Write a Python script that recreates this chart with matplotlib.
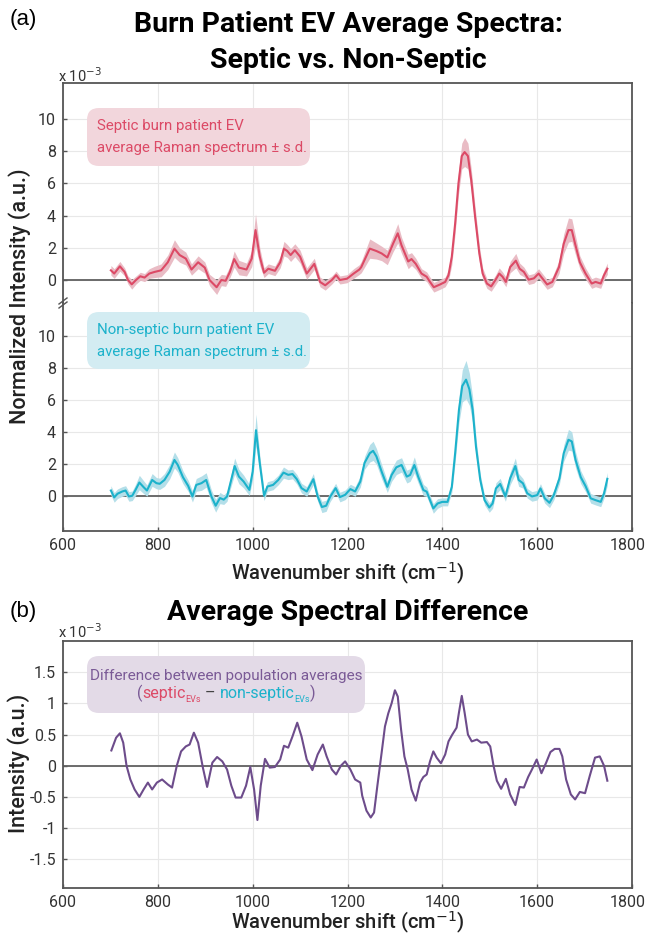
import matplotlib.pyplot as plt
from matplotlib.patches import FancyBboxPatch
from matplotlib.lines import Line2D
from matplotlib.transforms import IdentityTransform, ScaledTranslation

plt.rcParams['font.family'] = ['Roboto', 'DejaVu Sans']

# septic average spectrum (x 10^-3) and its s.d.
septic_x = [701, 708, 720, 730, 737, 745, 754, 763, 772, 782,
            793, 807, 821, 835, 846, 859, 871, 885, 899, 909,
            924, 934, 943, 952, 961, 971, 987, 998, 1006, 1015,
            1024, 1033, 1047, 1058, 1066, 1073, 1080, 1089, 1100, 1114,
            1130, 1142, 1153, 1167, 1176, 1184, 1199, 1213, 1225,
            1229, 1247, 1261, 1272, 1284, 1296, 1306, 1314, 1328, 1335,
            1344, 1356, 1367, 1374, 1382, 1395, 1406, 1413, 1420, 1427,
            1434, 1441, 1447, 1454, 1461, 1469, 1478, 1485, 1494, 1503,
            1512, 1520, 1527, 1534, 1543, 1555, 1563, 1572, 1582, 1593,
            1603, 1611, 1621, 1632, 1646, 1656, 1666, 1673, 1680, 1690,
            1702, 1715, 1723, 1734, 1741, 1748]
septic_y = [0.6, 0.4, 0.85, 0.5, 0.0, -0.27, 0.0, 0.23, 0.15, 0.4,
            0.5, 0.6, 1.1, 1.95, 1.55, 1.33, 0.65, 1.1, 0.77, 0.0,
            -0.45, 0.0, -0.05, 0.5, 1.3, 0.77, 0.65, 1.33, 3.1, 1.45,
            0.45, 0.7, 0.57, 1.1, 1.95, 1.8, 1.55, 1.85, 1.45, 0.4,
            1.0, -0.12, -0.33, 0.0, 0.3, 0.0, 0.08, 0.4, 0.65,
            0.8, 1.95, 1.8, 1.65, 1.4, 2.25, 2.9, 2.15, 1.15, 1.3,
            1.0, 0.4, 0.2, -0.12, -0.45, -0.28, -0.12, 0.3, 1.45, 3.5,
            6.0, 7.7, 7.95, 7.7, 6.2, 3.95, 1.65, 0.4, -0.22, -0.4,
            0.0, 0.4, 0.2, -0.12, 0.8, 1.2, 0.7, 0.5, 0.02, 0.1,
            0.4, 0.1, -0.28, -0.12, 0.8, 2.25, 3.1, 3.1, 2.25, 1.1,
            0.4, -0.22, -0.12, -0.22, 0.3, 0.7]
septic_sd = [0.3, 0.3, 0.3, 0.25, 0.25, 0.3, 0.25, 0.25, 0.25, 0.3,
             0.35, 0.4, 0.45, 0.55, 0.45, 0.4, 0.35, 0.4, 0.35, 0.35,
             0.45, 0.35, 0.35, 0.35, 0.5, 0.45, 0.4, 0.5, 1.0, 0.55,
             0.3, 0.3, 0.3, 0.35, 0.45, 0.4, 0.4, 0.4, 0.4, 0.35,
             0.35, 0.3, 0.3, 0.25, 0.25, 0.25, 0.25, 0.3, 0.3,
             0.35, 0.6, 0.5, 0.45, 0.45, 0.5, 0.6, 0.5, 0.45, 0.4,
             0.35, 0.3, 0.3, 0.3, 0.3, 0.3, 0.3, 0.35, 0.5, 0.6,
             0.7, 0.8, 0.9, 0.8, 0.7, 0.6, 0.5, 0.35, 0.3, 0.3,
             0.3, 0.35, 0.3, 0.3, 0.35, 0.45, 0.35, 0.3, 0.3, 0.3,
             0.3, 0.3, 0.3, 0.3, 0.4, 0.6, 0.75, 0.7, 0.6, 0.4,
             0.35, 0.3, 0.3, 0.3, 0.3, 0.35]

# non-septic average spectrum (x 10^-3) and its s.d.
nonsep_x = [701, 708, 715, 725, 732, 739, 746, 753, 761, 770,
            777, 788, 797, 804, 814, 825, 835, 842, 853, 864,
            873, 881, 892, 902, 913, 922, 931, 939, 946, 953,
            962, 971, 981, 993, 1000, 1007, 1015, 1024, 1031, 1043,
            1054, 1065, 1075, 1084, 1093, 1103, 1114, 1128, 1137, 1146,
            1155, 1163, 1175, 1184, 1195, 1206, 1216, 1227,
            1236, 1247, 1254, 1261, 1272, 1284, 1293, 1303, 1314, 1325,
            1332, 1341, 1349, 1360, 1367, 1374, 1381, 1390, 1400, 1411,
            1420, 1427, 1435, 1442, 1450, 1457, 1464, 1471, 1480, 1489,
            1499, 1506, 1513, 1522, 1533, 1543, 1554, 1561, 1570, 1579,
            1589, 1600, 1607, 1616, 1626, 1635, 1647, 1656, 1666, 1673,
            1681, 1692, 1702, 1713, 1723, 1734, 1741, 1748]
nonsep_y = [0.37, -0.06, 0.17, 0.31, 0.37, 0.0, 0.04, 0.41, 0.87, 0.58,
            0.37, 1.03, 0.83, 0.79, 1.03, 1.55, 2.28, 1.97, 1.2, 0.66,
            0.0, 0.72, 0.83, 1.03, 0.0, -0.58, -0.1, -0.2, 0.0, 0.83,
            1.9, 1.24, 0.93, 0.41, 1.55, 4.14, 2.07, 0.04, 0.62, 0.72,
            1.03, 1.49, 1.35, 1.4, 1.08, 0.52, 0.31, 1.08, 0.0, -0.66,
            -0.58, -0.04, 0.52, -0.04, 0.1, 0.46, 0.31, 0.93,
            2.1, 2.7, 2.85, 2.5, 1.55, 0.6, 1.34, 1.82, 1.97, 1.24,
            1.34, 1.97, 1.24, 0.4, 0.3, -0.23, -0.75, -0.44, -0.34, -0.34,
            0.6, 2.7, 5.4, 6.9, 7.3, 6.7, 5.4, 3.1, 1.03, -0.23,
            -0.69, -0.44, 0.5, 0.78, 0.0, 1.13, 1.9, 1.03, 0.82, 0.2,
            0.0, 0.08, 0.5, -0.12, -0.4, 0.08, 1.13, 2.7, 3.54, 3.44,
            2.28, 1.2, 0.65, -0.12, -0.23, -0.34, 0.19, 1.1]
nonsep_sd = [0.3, 0.3, 0.3, 0.3, 0.3, 0.3, 0.3, 0.35, 0.45, 0.4,
             0.35, 0.4, 0.35, 0.35, 0.4, 0.45, 0.5, 0.45, 0.4, 0.35,
             0.35, 0.4, 0.45, 0.45, 0.4, 0.4, 0.35, 0.3, 0.3, 0.35,
             0.5, 0.45, 0.4, 0.35, 0.5, 1.0, 0.5, 0.3, 0.3, 0.3,
             0.3, 0.35, 0.3, 0.3, 0.3, 0.3, 0.3, 0.35, 0.3, 0.35,
             0.35, 0.3, 0.3, 0.3, 0.3, 0.3, 0.3, 0.35,
             0.4, 0.55, 0.6, 0.5, 0.45, 0.35, 0.4, 0.45, 0.45, 0.4,
             0.4, 0.5, 0.4, 0.35, 0.3, 0.3, 0.3, 0.3, 0.25, 0.25,
             0.35, 0.55, 0.8, 1.0, 1.2, 1.0, 0.8, 0.55, 0.35, 0.3,
             0.3, 0.3, 0.35, 0.35, 0.3, 0.4, 0.5, 0.4, 0.3, 0.3,
             0.3, 0.3, 0.3, 0.3, 0.3, 0.3, 0.35, 0.5, 0.65, 0.6,
             0.5, 0.4, 0.35, 0.3, 0.3, 0.3, 0.3, 0.4]

# septic - non-septic difference (x 10^-3)
diff_x = [702, 712, 720, 727, 734, 742, 751, 761, 770, 779,
          788, 798, 809, 821, 830, 840, 849, 859, 867, 876,
          885, 895, 904, 915, 925, 936, 946, 955, 964, 976,
          986, 995, 1003, 1010, 1017, 1026, 1036, 1047, 1058, 1066,
          1075, 1084, 1094, 1103, 1114, 1126, 1137, 1148, 1156, 1167,
          1176, 1186, 1195, 1206, 1216, 1227,
          1231, 1240, 1249, 1256, 1263, 1272, 1279, 1286, 1293, 1300,
          1306, 1313, 1320, 1327, 1335, 1344, 1353, 1360, 1367, 1374,
          1381, 1388, 1397, 1406, 1413, 1421, 1430, 1435, 1441, 1447,
          1454, 1462, 1473, 1482, 1494, 1501, 1508, 1515, 1524, 1534,
          1543, 1554, 1563, 1572, 1581, 1589, 1599, 1609, 1619, 1628,
          1637, 1647, 1653, 1661, 1671, 1680, 1690, 1701, 1711, 1722,
          1732, 1741, 1748]
diff_y = [0.245, 0.45, 0.52, 0.37, 0.0, -0.22, -0.38, -0.5, -0.38, -0.27,
          -0.38, -0.27, -0.22, -0.3, -0.35, 0.0, 0.23, 0.31, 0.34, 0.53,
          0.37, -0.03, -0.34, 0.05, 0.14, 0.07, -0.06, -0.32, -0.51, -0.51,
          -0.32, -0.02, -0.38, -0.87, -0.32, 0.11, -0.03, -0.02, 0.1, 0.32,
          0.29, 0.47, 0.69, 0.47, 0.1, -0.07, 0.18, 0.34, 0.15, -0.06,
          -0.14, 0.0, 0.07, -0.06, -0.22, -0.27,
          -0.48, -0.72, -0.83, -0.75, -0.32, 0.21, 0.63, 0.84, 1.0, 1.21,
          1.11, 0.58, 0.15, -0.06, -0.38, -0.56, -0.27, -0.18, -0.14, 0.07,
          0.23, 0.13, 0.04, 0.18, 0.39, 0.5, 0.61, 0.85, 1.12, 0.85,
          0.5, 0.39, 0.42, 0.37, 0.38, 0.31, 0.0, -0.24, -0.37, -0.21,
          -0.46, -0.63, -0.34, -0.35, -0.18, -0.06, 0.1, -0.12, 0.05, 0.22,
          0.27, 0.27, 0.15, -0.22, -0.46, -0.54, -0.42, -0.44, -0.16, 0.13,
          0.15, 0.0, -0.24]

xticks = [600, 800, 1000, 1200, 1400, 1600, 1800]
yticks_top = [0, 2, 4, 6, 8, 10]
yticks_diff = [-1.5, -1, -0.5, 0, 0.5, 1, 1.5]
ytick_labels_diff = ['-1.5', '-1', '-0.5', '0', '0.5', '1', '1.5']

RED = '#dc4a66'
CYAN = '#1cb2cb'
PURPLE = '#6d4c8b'
SPINE = '#555555'

W, H = 648, 934
fig = plt.figure(figsize=(W / 100, H / 100), dpi=100)


def rect(x0, y0, x1, y1):
    # pixel box with top-left origin -> figure fraction rect
    return [x0 / W, 1 - y1 / H, (x1 - x0) / W, (y1 - y0) / H]


def style(ax):
    ax.set_xlim(600, 1800)
    ax.set_xticks(xticks)
    ax.grid(True, color='#e8e8e8', lw=0.8)
    ax.set_axisbelow(True)
    ax.tick_params(direction='in', length=3, width=1, color=SPINE,
                   labelsize=11.5, labelcolor='#333333', pad=5)
    for s in ax.spines.values():
        s.set_color(SPINE)
        s.set_linewidth(1.3)
    ax.axhline(0, color='#606060', lw=1.3, zorder=1)


ax_s = fig.add_axes(rect(63, 83, 632, 303))
ax_n = fig.add_axes(rect(63, 303, 632, 531))
ax_d = fig.add_axes(rect(63, 641, 632, 888))

for ax in (ax_s, ax_n, ax_d):
    style(ax)

ax_s.fill_between(septic_x, [m - s for m, s in zip(septic_y, septic_sd)],
                  [m + s for m, s in zip(septic_y, septic_sd)],
                  color='#e9bcc5', lw=0, zorder=2)
ax_s.plot(septic_x, septic_y, color=RED, lw=1.5, zorder=3)
ax_s.set_ylim(-1.43, 12.24)
ax_s.set_yticks(yticks_top)
ax_s.spines['bottom'].set_visible(False)
ax_s.tick_params(labelbottom=False, bottom=False)

ax_n.fill_between(nonsep_x, [m - s for m, s in zip(nonsep_y, nonsep_sd)],
                  [m + s for m, s in zip(nonsep_y, nonsep_sd)],
                  color='#b4dfe9', lw=0, zorder=2)
ax_n.plot(nonsep_x, nonsep_y, color=CYAN, lw=1.5, zorder=3)
ax_n.set_ylim(-2.16, 12.09)
ax_n.set_yticks(yticks_top)
ax_n.spines['top'].set_visible(False)

ax_d.plot(diff_x, diff_y, color=PURPLE, lw=1.5, zorder=3)
ax_d.set_ylim(-1.96, 2.0)
ax_d.set_yticks(yticks_diff)
ax_d.set_yticklabels(ytick_labels_diff)

# the last x label sits a little left of the right spine, as in the source
for ax in (ax_n, ax_d):
    lab = ax.get_xticklabels()[-1]
    lab.set_transform(lab.get_transform() + ScaledTranslation(-4 / 100, 0, fig.dpi_scale_trans))

# axis break marks on the left spine
for dy in (-2, 2):
    fig.add_artist(Line2D([59, 67], [H - 303 - 3 + dy, H - 303 + 3 + dy],
                          color=SPINE, lw=1, transform=IdentityTransform()))

# titles and labels
fig.text(10 / W, 1 - 20 / H, '(a)', fontsize=16, va='center', family='Liberation Sans')
fig.text(348 / W, 1 - 24 / H, 'Burn Patient EV Average Spectra:', fontsize=20.5,
         weight='bold', ha='center', va='center')
fig.text(348 / W, 1 - 60 / H, 'Septic vs. Non-Septic', fontsize=20.5,
         weight='bold', ha='center', va='center')
fig.text(10 / W, 1 - 612 / H, '(b)', fontsize=16, va='center', family='Liberation Sans')
fig.text(348 / W, 1 - 612 / H, 'Average Spectral Difference', fontsize=20.5,
         weight='bold', ha='center', va='center')

for y in (76, 632):
    fig.text(58 / W, 1 - y / H, r'x 10$^{-3}$', fontsize=10.5, va='center', color='#333333')

fig.text(20 / W, 1 - 296 / H, 'Normalized Intensity (a.u.)', fontsize=15.5,
         weight='medium', rotation=90, ha='center', va='center', color='#222222')
fig.text(19 / W, 1 - 763 / H, 'Intensity (a.u.)', fontsize=15.5,
         weight='medium', rotation=90, ha='center', va='center', color='#222222')
fig.text(348 / W, 1 - 580 / H, r'Wavenumber shift (cm$^{-1}$)', fontsize=14.5,
         weight='medium', ha='center', va='baseline', color='#222222')
fig.text(348 / W, 1 - 929 / H, r'Wavenumber shift (cm$^{-1}$)', fontsize=14.5,
         weight='medium', ha='center', va='baseline', color='#222222')


def box(x0, y0, x1, y1, color):
    fig.add_artist(FancyBboxPatch((x0, H - y1), x1 - x0, y1 - y0,
                                  boxstyle='round,pad=0,rounding_size=12',
                                  facecolor=color, edgecolor='none',
                                  transform=IdentityTransform(), zorder=5))


box(87, 108, 310, 166, '#f2d6dc')
fig.text(97 / W, 1 - 126 / H, 'Septic burn patient EV', fontsize=10.8, color=RED,
         va='center', zorder=6)
fig.text(97 / W, 1 - 148 / H, 'average Raman spectrum \u00b1 s.d.', fontsize=10.8,
         color=RED, va='center', zorder=6)

box(87, 312, 310, 369, '#d3ecf2')
fig.text(97 / W, 1 - 330 / H, 'Non-septic burn patient EV', fontsize=10.8, color=CYAN,
         va='center', zorder=6)
fig.text(97 / W, 1 - 352 / H, 'average Raman spectrum \u00b1 s.d.', fontsize=10.8,
         color=CYAN, va='center', zorder=6)

box(87, 656, 365, 713, '#e3dae7')
fig.text(226 / W, 1 - 676 / H, 'Difference between population averages', fontsize=11,
         color='#7a5a96', ha='center', va='center', zorder=6)

# second line with coloured parts
pieces = [('(', '#7a5a96', 11.5, 0), ('septic', RED, 11.5, 0), ('EVs', RED, 6.5, -4),
          (' \u2013 ', '#444444', 11.5, 0), ('non-septic', CYAN, 11.5, 0),
          ('EVs', CYAN, 6.5, -4), (')', '#7a5a96', 11.5, 0)]
renderer = fig.canvas.get_renderer()
texts = []
for s, c, fs, dy in pieces:
    t = fig.text(0, 0, s, fontsize=fs, color=c, va='baseline', zorder=6,
                 transform=IdentityTransform())
    texts.append((t, dy))
widths = [t.get_window_extent(renderer).width for t, _ in texts]
x = 226 - sum(widths) / 2
base = H - 698
for (t, dy), w in zip(texts, widths):
    t.set_position((x, base + dy))
    x += w

fig.savefig('out.png', dpi=100)
